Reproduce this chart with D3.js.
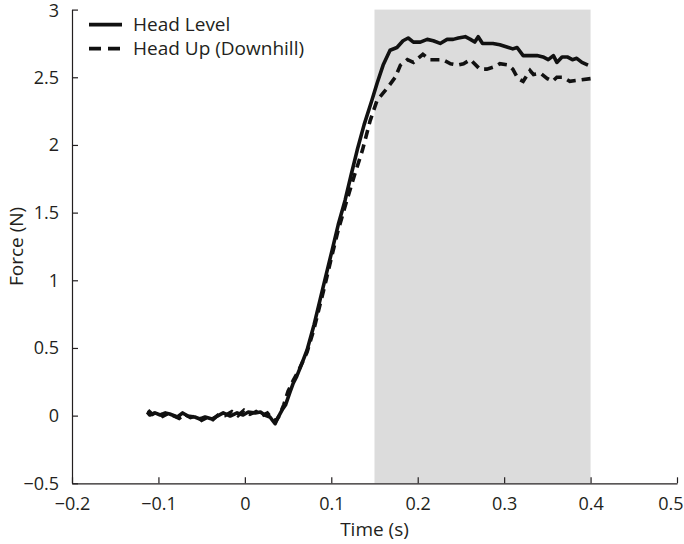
<!DOCTYPE html>
<html>
<head>
<meta charset="utf-8">
<script src="https://cdn.jsdelivr.net/npm/d3@7"></script>
<style>
  body { margin: 0; background: #fff; }
  .chart text { font-family: "Open Sans", sans-serif; fill: #231f20; }
</style>
</head>
<body>
<div class="chart"></div>
<script>
// Head level trial (solid)
const levelTime = [-0.113, -0.110, -0.104, -0.098, -0.092, -0.087, -0.078, -0.072, -0.066, -0.058,
  -0.052, -0.046, -0.038, -0.032, -0.025, -0.017, -0.009, -0.002, 0.004, 0.012,
  0.018, 0.023, 0.029, 0.035, 0.038, 0.043, 0.047, 0.052, 0.056, 0.060,
  0.065, 0.072, 0.080, 0.087, 0.094, 0.101, 0.108, 0.116, 0.123, 0.130,
  0.138, 0.147, 0.153, 0.160, 0.168, 0.176, 0.183, 0.189, 0.195, 0.203,
  0.211, 0.218, 0.226, 0.234, 0.241, 0.247, 0.255, 0.261, 0.266, 0.270,
  0.275, 0.281, 0.287, 0.295, 0.305, 0.310, 0.315, 0.322, 0.330, 0.338,
  0.345, 0.351, 0.357, 0.361, 0.367, 0.373, 0.379, 0.384, 0.390, 0.397];
const levelForce = [0.027, 0.005, 0.020, 0.005, 0.020, 0.012, -0.010, 0.020, -0.003, -0.010,
  -0.025, -0.010, -0.025, -0.003, 0.020, -0.003, 0.020, 0.005, 0.027, 0.020,
  0.027, 0.005, -0.010, -0.060, -0.018, 0.041, 0.078, 0.170, 0.240, 0.290,
  0.370, 0.485, 0.670, 0.855, 1.040, 1.223, 1.410, 1.592, 1.780, 1.962,
  2.150, 2.330, 2.456, 2.590, 2.700, 2.720, 2.770, 2.790, 2.760, 2.760,
  2.780, 2.770, 2.750, 2.780, 2.780, 2.790, 2.800, 2.780, 2.760, 2.800,
  2.750, 2.750, 2.750, 2.740, 2.720, 2.710, 2.720, 2.660, 2.660, 2.660,
  2.650, 2.630, 2.660, 2.610, 2.650, 2.650, 2.630, 2.640, 2.610, 2.590];

// Head up (downhill) trial (dashed)
const upTime = [-0.112, -0.107, -0.101, -0.095, -0.089, -0.083, -0.076, -0.070, -0.063, -0.056,
  -0.050, -0.044, -0.037, -0.030, -0.023, -0.015, -0.008, -0.001, 0.006, 0.013,
  0.020, 0.026, 0.031, 0.036, 0.040, 0.045, 0.050, 0.056, 0.062, 0.072,
  0.080, 0.087, 0.094, 0.101, 0.108, 0.118, 0.127, 0.136, 0.145, 0.153,
  0.166, 0.174, 0.180, 0.188, 0.195, 0.206, 0.214, 0.222, 0.229, 0.238,
  0.246, 0.253, 0.261, 0.272, 0.280, 0.290, 0.295, 0.305, 0.310, 0.316,
  0.322, 0.330, 0.334, 0.342, 0.350, 0.356, 0.361, 0.368, 0.376, 0.388, 0.400];
const upForce = [0.040, 0.010, 0.030, -0.005, 0.015, 0.000, -0.020, 0.010, -0.015, 0.000,
  -0.035, -0.015, -0.030, 0.010, 0.000, 0.030, 0.000, 0.040, 0.010, 0.030,
  0.000, 0.020, -0.020, -0.040, 0.000, 0.080, 0.180, 0.260, 0.330, 0.470,
  0.640, 0.820, 1.000, 1.190, 1.370, 1.590, 1.780, 1.960, 2.180, 2.330,
  2.430, 2.500, 2.590, 2.630, 2.610, 2.670, 2.630, 2.630, 2.630, 2.600,
  2.590, 2.600, 2.630, 2.560, 2.560, 2.580, 2.600, 2.590, 2.560, 2.490,
  2.470, 2.550, 2.520, 2.530, 2.490, 2.470, 2.500, 2.500, 2.470, 2.480, 2.490];

const xTicks = [-0.2, -0.1, 0, 0.1, 0.2, 0.3, 0.4, 0.5];
const yTicks = [-0.5, 0, 0.5, 1, 1.5, 2, 2.5, 3];
const shadeWindow = [0.15, 0.4];
const seriesNames = ["Head Level", "Head Up (Downhill)"];

function createForcePlot(width, height) {
  const margin = { top: 9.6, right: 7, bottom: 60.7, left: 72 };
  const w = width - margin.left - margin.right;
  const h = height - margin.top - margin.bottom;

  const x = d3.scaleLinear().domain([-0.2, 0.5]).range([0, w]);
  const y = d3.scaleLinear().domain([-0.5, 3]).range([h, 0]);

  const svg = d3.select(".chart")
    .append("svg")
    .attr("width", width)
    .attr("height", height)
    .append("g")
    .attr("transform", `translate(${margin.left},${margin.top})`);

  // grey analysis window
  svg.append("rect")
    .attr("x", x(shadeWindow[0]))
    .attr("y", y(3))
    .attr("width", x(shadeWindow[1]) - x(shadeWindow[0]))
    .attr("height", y(-0.5) - y(3))
    .attr("fill", "#dcdcdc");

  const fmt = d => d3.format("")(d).replace("-", "\u2212");

  // x axis, ticks pointing into the plot
  const gx = svg.append("g")
    .attr("transform", `translate(0,${h})`)
    .call(d3.axisBottom(x).tickValues(xTicks).tickFormat(fmt).tickSizeInner(-6).tickSizeOuter(0).tickPadding(14));
  gx.selectAll("text").style("font-size", "18px");
  // last label sits against the right edge, like the original
  gx.selectAll(".tick").filter(d => d === 0.5).select("text")
    .attr("text-anchor", "end")
    .attr("x", 6);

  svg.append("text")
    .attr("x", w / 2)
    .attr("y", h + 53)
    .attr("text-anchor", "middle")
    .style("font-size", "19px")
    .text("Time (s)");

  // y axis
  const gy = svg.append("g")
    .call(d3.axisLeft(y).tickValues(yTicks).tickFormat(fmt).tickSizeInner(-6).tickSizeOuter(0).tickPadding(13));
  gy.selectAll("text").style("font-size", "18px");
  gy.selectAll(".tick").filter(d => d === 3).select("text").attr("dy", "0.4em");

  svg.append("text")
    .attr("transform", "rotate(-90)")
    .attr("x", -h / 2)
    .attr("y", -margin.left + 23)
    .attr("text-anchor", "middle")
    .style("font-size", "19px")
    .text("Force (N)");

  svg.selectAll(".domain, .tick line").attr("stroke", "#231f20").attr("stroke-width", 1.2);

  const line = d3.line()
    .x(d => x(d[0]))
    .y(d => y(d[1]));

  const upData = d3.zip(upTime, upForce);
  const levelData = d3.zip(levelTime, levelForce);

  svg.append("path")
    .datum(upData)
    .attr("d", line)
    .attr("fill", "none")
    .attr("stroke", "#111")
    .attr("stroke-width", 3.6)
    .attr("stroke-dasharray", "9,6");

  svg.append("path")
    .datum(levelData)
    .attr("d", line)
    .attr("fill", "none")
    .attr("stroke", "#111")
    .attr("stroke-width", 3.6)
    .attr("stroke-linejoin", "round");

  // legend
  const legend = svg.append("g").attr("transform", `translate(17,15)`);
  seriesNames.forEach((name, i) => {
    const row = legend.append("g").attr("transform", `translate(0,${i * 24})`);
    row.append("line")
      .attr("x1", 0).attr("x2", 33)
      .attr("stroke", "#111")
      .attr("stroke-width", 3.6)
      .attr("stroke-dasharray", i === 1 ? "12,7" : null);
    row.append("text")
      .attr("x", 44)
      .attr("dy", "0.35em")
      .style("font-size", "19px")
      .text(name);
  });
}

createForcePlot(684, 544);
</script>
</body>
</html>
